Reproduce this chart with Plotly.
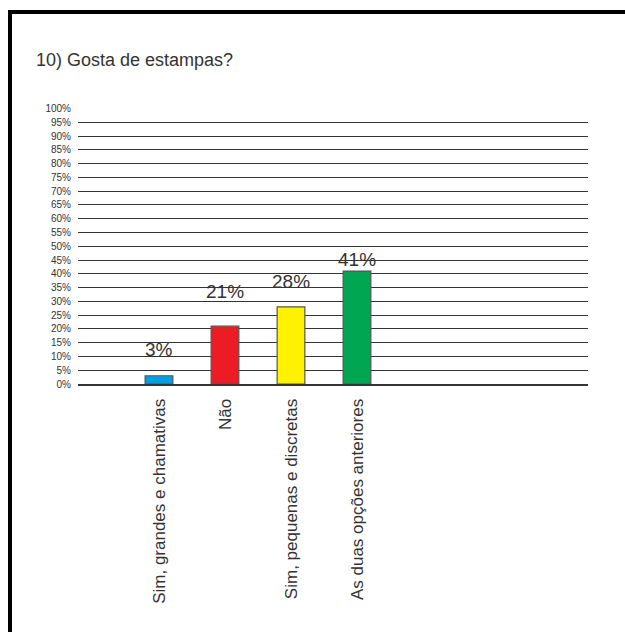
import plotly.graph_objects as go

categories = ["Sim, grandes e chamativas", "Não", "Sim, pequenas e discretas", "As duas opções anteriores"]
values = [3, 21, 28, 41]
labels = ["3%", "21%", "28%", "41%"]
colors = ["#00A0E3", "#ED1C24", "#FFF200", "#00A651"]
label_shift = [26, 35, 25, 12]
y_ticks = list(range(0, 101, 5))
y_ticktext = [f"{v}%" for v in y_ticks]
title = "10) Gosta de estampas?"

W, H = 625, 632
L, R, T, B = 78, 588, 108, 384
pw, ph = R - L, B - T

xpos = list(range(len(categories)))

fig = go.Figure()
fig.add_trace(go.Bar(
    x=xpos, y=values, width=0.42,
    marker=dict(color=colors, line=dict(color="#555555", width=1.2)),
    hoverinfo="skip",
))

for x, v, t, s in zip(xpos, values, labels, label_shift):
    fig.add_annotation(x=x, y=v, text=t, showarrow=False, yshift=s,
                       font=dict(size=19, color="#333333", family="Liberation Sans, Arial"))

def px(x):
    return (x - L) / pw

def py(y):
    return (B - y) / ph

fig.add_shape(type="line", xref="paper", yref="paper",
              x0=px(10), x1=px(10), y0=py(640), y1=py(10),
              line=dict(color="black", width=4))
fig.add_shape(type="line", xref="paper", yref="paper",
              x0=px(8), x1=px(640), y0=py(12), y1=py(12),
              line=dict(color="black", width=4))

fig.update_layout(
    width=W, height=H,
    margin=dict(l=L, r=W - R, t=T, b=H - B, pad=0),
    paper_bgcolor="white", plot_bgcolor="white",
    showlegend=False,
    font=dict(family="Liberation Sans, Arial", color="#333333"),
    title=dict(text=title, x=36 / W, xref="container", xanchor="left",
               y=1 - 60 / H, yref="container", yanchor="middle",
               font=dict(size=18, color="#333333", family="Liberation Sans, Arial")),
    xaxis=dict(range=[-1.227, 6.5], tickvals=xpos, ticktext=categories, tickangle=-90,
               showgrid=False, zeroline=False, showline=True, linecolor="#333333", linewidth=2,
               ticks="", tickfont=dict(size=17, color="#333333"), ticklabelstandoff=6,
               fixedrange=True),
    yaxis=dict(range=[0, 100.2], tickvals=y_ticks, ticktext=y_ticktext,
               showgrid=True, gridcolor="#333333", gridwidth=1, zeroline=False,
               showline=False, ticks="", tickfont=dict(size=10, color="#333333"),
               ticklabelstandoff=6, fixedrange=True),
)

fig.write_html("out.html", config={"displayModeBar": False},
               post_script="document.body.style.margin='0';document.body.style.overflow='hidden';")
